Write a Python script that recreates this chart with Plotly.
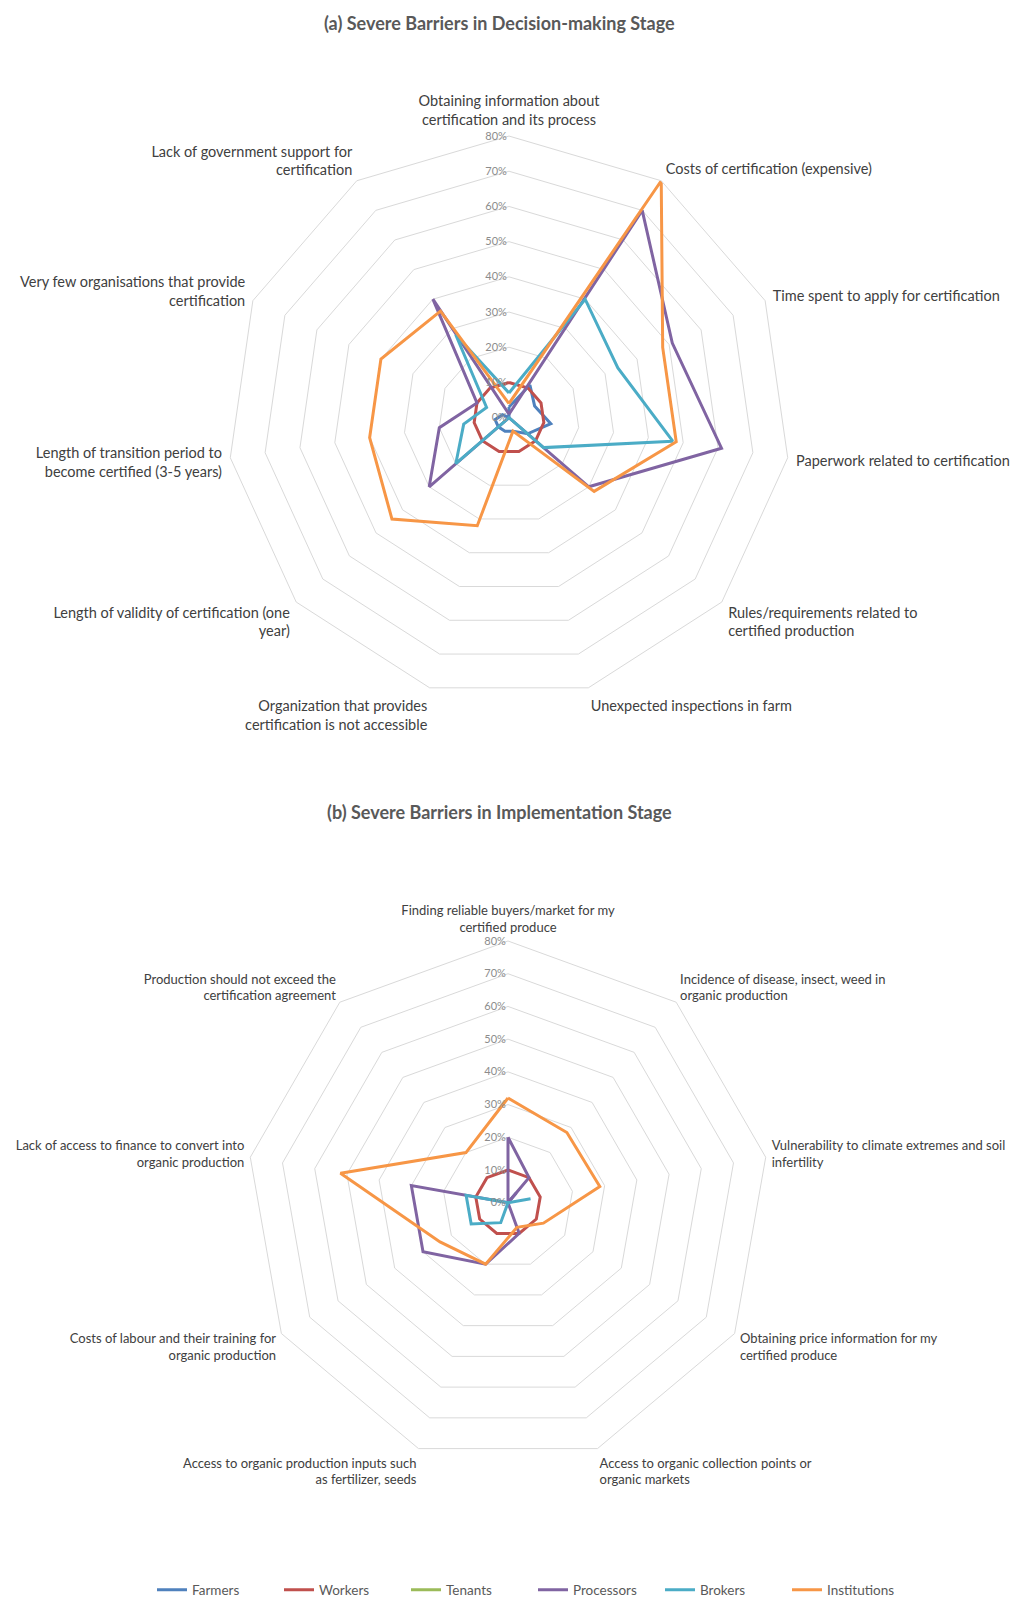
import plotly.graph_objects as go

# ---------------- data ----------------
series_names = ["Farmers", "Workers", "Tenants", "Processors", "Brokers", "Institutions"]
series_colors = ["#4F81BD", "#C0504D", "#9BBB59", "#8064A2", "#4BACC6", "#F79646"]

decision_categories = [
    "Obtaining information about<br>certification and its process",
    "Costs of certification (expensive)",
    "Time spent to apply for certification",
    "Paperwork related to certification",
    "Rules/requirements related to<br>certified production",
    "Unexpected inspections in farm",
    "Organization that provides<br>certification is not accessible",
    "Length of validity of certification (one<br>year)",
    "Length of transition period to<br>become certified (3-5 years)",
    "Very few organisations that provide<br>certification",
    "Lack of government support for<br>certification",
]
decision_farmers = [3, 11, 8, 12, 7, 4, 4, 4, 4, 2, 0]
decision_workers = [10, 10, 10, 10, 10, 10, 10, 10, 10, 10, 10]
decision_tenants = [0, 0, 0, 0, 0, 0, 0, 0, 0, 0, 0]
decision_processors = [1, 70, 51, 61, 30, 0, 0, 30, 20, 10, 40]
decision_brokers = [7, 40, 34, 47, 13, 0, 0, 20, 13, 7, 28]
decision_institutions = [4, 80, 48, 48, 32, 4, 32, 44, 40, 40, 36]

implementation_categories = [
    "Finding reliable buyers/market for my<br>certified produce",
    "Incidence of disease, insect, weed in<br>organic production",
    "Vulnerability to climate extremes and soil<br>infertility",
    "Obtaining price information for my<br>certified produce",
    "Access to organic collection points or<br>organic markets",
    "Access to organic production inputs such<br>as fertilizer, seeds",
    "Costs of labour and their training for<br>organic production",
    "Lack of access to finance to convert into<br>organic production",
    "Production should not exceed the<br>certification agreement",
]
impl_farmers = [0, 4, 0, 0, 0, 0, 0, 0, 0]
impl_workers = [10, 10, 10, 10, 10, 10, 10, 10, 10]
impl_tenants = [0, 0, 0, 0, 0, 0, 0, 0, 0]
impl_processors = [20, 10, 0, 0, 10, 20, 30, 30, 0]
impl_brokers = [0, 0, 7, 0, 0, 6.5, 13, 13, 0]
impl_institutions = [32, 28, 28.5, 12.5, 8, 20, 24, 52, 20]

radial_ticks = [0, 10, 20, 30, 40, 50, 60, 70, 80]

titles = ["(a) Severe Barriers in Decision-making Stage",
          "(b) Severe Barriers in Implementation Stage"]

# ---------------- figure ----------------
W, H = 1029, 1598
FONT = "Lato, 'Noto Sans', sans-serif"

fig = go.Figure()

decision = [decision_farmers, decision_workers, decision_tenants,
            decision_processors, decision_brokers, decision_institutions]
impl = [impl_farmers, impl_workers, impl_tenants,
        impl_processors, impl_brokers, impl_institutions]

for i, name in enumerate(series_names):
    vals = decision[i]
    fig.add_trace(go.Scatterpolar(
        r=vals + vals[:1], theta=decision_categories + decision_categories[:1],
        mode="lines", name=name, legendgroup=name, showlegend=True,
        line=dict(color=series_colors[i], width=3), subplot="polar",
    ))
for i, name in enumerate(series_names):
    vals = impl[i]
    fig.add_trace(go.Scatterpolar(
        r=vals + vals[:1], theta=implementation_categories + implementation_categories[:1],
        mode="lines", name=name, legendgroup=name, showlegend=False,
        line=dict(color=series_colors[i], width=3), subplot="polar2",
    ))


def px_domain(cx, cy, r):
    return dict(x=[(cx - r) / W, (cx + r) / W],
                y=[(H - cy - r) / H, (H - cy + r) / H])


def polar_cfg(domain, cats, fsize, tlen):
    return dict(
        domain=domain,
        bgcolor="white",
        gridshape="linear",
        radialaxis=dict(
            range=[0, 80], tickvals=radial_ticks,
            ticktext=[f"{v}%" for v in radial_ticks],
            showline=False, ticks="", angle=90, side="counterclockwise",
            tickangle=90,
            gridcolor="#D9D9D9", gridwidth=1,
            tickfont=dict(family=FONT, size=11, color="#8C8C8C"),
        ),
        angularaxis=dict(
            categoryarray=cats, categoryorder="array",
            rotation=90, direction="clockwise",
            showgrid=False, showline=True, linecolor="#D9D9D9", linewidth=1,
            ticks="outside", ticklen=tlen, tickcolor="rgba(0,0,0,0)",
            tickfont=dict(family=FONT, size=fsize, color="#404040"),
        ),
    )


fig.update_layout(
    width=W, height=H,
    margin=dict(l=0, r=0, t=0, b=0),
    paper_bgcolor="white",
    polar=polar_cfg(px_domain(501, 411.7, 283), decision_categories, 14.5, 5),
    polar2=polar_cfg(px_domain(500, 1200.7, 263), implementation_categories, 13, 3),
    showlegend=True,
    legend=dict(
        orientation="h", x=144 / W, xanchor="left",
        y=(H - 1590) / H, yanchor="middle",
        entrywidth=82, entrywidthmode="pixels",
        font=dict(family=FONT, size=13.5, color="#595959"),
        bgcolor="rgba(0,0,0,0)",
    ),
    annotations=[
        dict(text=f"<b>{titles[0]}</b>", x=491 / W, y=(H - 15) / H,
             xref="paper", yref="paper", showarrow=False,
             xanchor="center", yanchor="middle",
             font=dict(family=FONT, size=18, color="#595959")),
        dict(text=f"<b>{titles[1]}</b>", x=491 / W, y=(H - 808) / H,
             xref="paper", yref="paper", showarrow=False,
             xanchor="center", yanchor="middle",
             font=dict(family=FONT, size=18, color="#595959")),
    ],
)

fig.write_html("out.html")
